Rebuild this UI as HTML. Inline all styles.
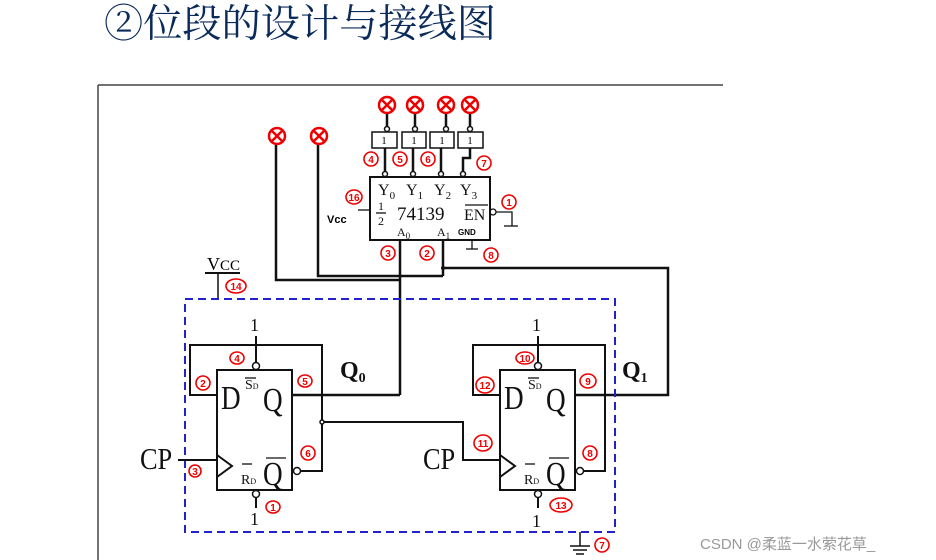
<!DOCTYPE html>
<html><head><meta charset="utf-8">
<style>
html,body{margin:0;padding:0;background:#fff;width:936px;height:560px;overflow:hidden}
svg{display:block}
.t{font-family:"Liberation Serif","Noto Serif CJK SC",serif}
.r{fill:#fff;stroke:#e00;stroke-width:1.6}
.rn{font-family:"Liberation Sans",sans-serif;font-size:10px;fill:#e00;text-anchor:middle;font-weight:bold}
</style></head><body>
<svg width="936" height="560" viewBox="0 0 936 560" xmlns="http://www.w3.org/2000/svg">
<text x="104" y="37" font-family="Noto Serif CJK SC, serif" font-size="39" fill="#0a2a5a" textLength="392" lengthAdjust="spacingAndGlyphs">②位段的设计与接线图</text>
<line x1="98" y1="85" x2="723" y2="85" stroke="#444" stroke-width="1.5"/>
<line x1="98" y1="85" x2="98" y2="560" stroke="#444" stroke-width="1.5"/>

<g stroke="#111" stroke-width="2.5" fill="none">
<polyline points="276,140 276,280 400,280"/>
<polyline points="318,140 318,276 443,276"/>
<line x1="400" y1="240" x2="400" y2="395"/>
<line x1="443" y1="240" x2="443" y2="276"/>
<polyline points="443,268 668,268 668,395 575,395"/>
<polyline points="292,395 400,395"/>
<line x1="387" y1="112" x2="387" y2="128"/>
<line x1="415" y1="112" x2="415" y2="128"/>
<line x1="446" y1="112" x2="446" y2="128"/>
<line x1="470" y1="112" x2="470" y2="128"/>
<line x1="385" y1="148" x2="385" y2="172"/>
<line x1="413" y1="148" x2="413" y2="172"/>
<line x1="441" y1="148" x2="441" y2="172"/>
<polyline points="470,148 470,158 463,158 463,172"/>
</g>
<g stroke="#e00" stroke-width="2.5" fill="#fff">
<circle cx="387" cy="105" r="8"/><circle cx="415" cy="105" r="8"/><circle cx="446" cy="105" r="8"/><circle cx="470" cy="105" r="8"/>
<circle cx="277" cy="136" r="8"/><circle cx="319" cy="136" r="8"/>
</g>
<g stroke="#e00" stroke-width="2.5">
<path d="M382,100l10,10M392,100l-10,10M410,100l10,10M420,100l-10,10M441,100l10,10M451,100l-10,10M465,100l10,10M475,100l-10,10M272,131l10,10M282,131l-10,10M314,131l10,10M324,131l-10,10"/>
</g>
<g stroke="#111" stroke-width="1.5" fill="#fff">
<rect x="372" y="132" width="25" height="16"/><rect x="402" y="132" width="24" height="16"/><rect x="430" y="132" width="24" height="16"/><rect x="458" y="132" width="25" height="16"/>
<circle cx="387" cy="129" r="2.5"/><circle cx="415" cy="129" r="2.5"/><circle cx="446" cy="129" r="2.5"/><circle cx="470" cy="129" r="2.5"/>
<circle cx="385" cy="174" r="2.5"/><circle cx="413" cy="174" r="2.5"/><circle cx="441" cy="174" r="2.5"/><circle cx="463" cy="174" r="2.5"/>
</g>
<g class="t" font-size="11" text-anchor="middle"><text x="384" y="144">1</text><text x="414" y="144">1</text><text x="442" y="144">1</text><text x="470" y="144">1</text></g>
<rect x="370" y="177" width="120" height="63" fill="none" stroke="#111" stroke-width="2"/>
<g class="t" font-size="16" fill="#111">
<text x="378" y="195">Y<tspan font-size="11" dy="4">0</tspan></text>
<text x="406" y="195">Y<tspan font-size="11" dy="4">1</tspan></text>
<text x="434" y="195">Y<tspan font-size="11" dy="4">2</tspan></text>
<text x="460" y="195">Y<tspan font-size="11" dy="4">3</tspan></text>
<text x="378" y="210" font-size="12">1</text><text x="378" y="225" font-size="12">2</text>
<text x="397" y="220" font-size="19">74139</text>
<text x="464" y="220" font-size="16">EN</text>
<text x="397" y="236" font-size="12">A<tspan font-size="9" dy="3">0</tspan></text>
<text x="437" y="236" font-size="12">A<tspan font-size="9" dy="3">1</tspan></text>
</g>
<text x="458" y="235" font-family="Liberation Sans,sans-serif" font-size="8" font-weight="bold">GND</text>
<text x="327" y="223" font-family="Liberation Sans,sans-serif" font-size="11" font-weight="bold">Vcc</text>
<g stroke="#111" stroke-width="1.3" fill="none">
<line x1="376" y1="213" x2="386" y2="213"/>
<line x1="465" y1="205" x2="488" y2="205"/>
<line x1="358" y1="210" x2="370" y2="210"/>
<circle cx="493" cy="212" r="3"/>
<polyline points="496,212 512,212 512,226"/><line x1="504" y1="226" x2="518" y2="226"/>
<line x1="472" y1="240" x2="472" y2="249"/><line x1="466" y1="249" x2="478" y2="249"/>
</g>
<circle cx="443" cy="268" r="2" fill="#111"/>
<text x="207" y="270" class="t" font-size="18">V<tspan font-size="15">CC</tspan></text>
<line x1="205" y1="273" x2="240" y2="273" stroke="#111" stroke-width="2"/>
<line x1="218" y1="273" x2="218" y2="299" stroke="#111" stroke-width="1.5"/>
<rect x="185" y="299" width="430" height="233" fill="none" stroke="#22c" stroke-width="2" stroke-dasharray="8,5"/>
<g stroke="#111" stroke-width="2" fill="none">
<rect x="217" y="370" width="75" height="120"/>
<polyline points="300,471 322,471 322,345 190,345 190,395 217,395"/>
<polyline points="322,422 463,422 463,460 500,460"/>
<polyline points="217,455 232,466 217,477"/>
<line x1="178" y1="460" x2="217" y2="460"/>
<line x1="256" y1="336" x2="256" y2="362"/>
<line x1="256" y1="497" x2="256" y2="508"/>
<rect x="500" y="370" width="75" height="120"/>
<polyline points="583,471 605,471 605,345 473,345 473,395 500,395"/>
<polyline points="500,455 515,466 500,477"/>
<line x1="538" y1="336" x2="538" y2="362"/>
<line x1="538" y1="497" x2="538" y2="508"/>
</g>
<g stroke="#111" stroke-width="1.5" fill="#fff">
<circle cx="297" cy="471" r="3.5"/><circle cx="256" cy="366" r="3.5"/><circle cx="256" cy="494" r="3.5"/><circle cx="322" cy="422" r="2"/>
<circle cx="580" cy="471" r="3.5"/><circle cx="538" cy="366" r="3.5"/><circle cx="538" cy="494" r="3.5"/>
</g>
<g class="t" fill="#111">
<text x="221" y="409" font-size="34" transform="translate(221,409) scale(0.8,1) translate(-221,-409)">D</text>
<text x="263" y="411" font-size="34" transform="translate(263,411) scale(0.8,1) translate(-263,-411)">Q</text>
<text x="245" y="389" font-size="14">S<tspan font-size="8">D</tspan></text>
<text x="241" y="484" font-size="14">R<tspan font-size="8">D</tspan></text>
<text x="263" y="485" font-size="34" transform="translate(263,485) scale(0.8,1) translate(-263,-485)">Q</text>
<text x="504" y="409" font-size="34" transform="translate(504,409) scale(0.8,1) translate(-504,-409)">D</text>
<text x="546" y="411" font-size="34" transform="translate(546,411) scale(0.8,1) translate(-546,-411)">Q</text>
<text x="528" y="389" font-size="14">S<tspan font-size="8">D</tspan></text>
<text x="524" y="484" font-size="14">R<tspan font-size="8">D</tspan></text>
<text x="546" y="485" font-size="34" transform="translate(546,485) scale(0.8,1) translate(-546,-485)">Q</text>
<text x="250" y="331" font-size="18">1</text><text x="250" y="525" font-size="18">1</text>
<text x="532" y="331" font-size="18">1</text><text x="532" y="527" font-size="18">1</text>
<text x="140" y="469" font-size="31" transform="translate(140,469) scale(0.85,1) translate(-140,-469)">CP</text>
<text x="423" y="469" font-size="31" transform="translate(423,469) scale(0.85,1) translate(-423,-469)">CP</text>
<text x="340" y="378" font-size="24" font-weight="bold">Q<tspan font-size="14" dy="4">0</tspan></text>
<text x="622" y="378" font-size="24" font-weight="bold">Q<tspan font-size="14" dy="4">1</tspan></text>
</g>
<g stroke="#111" stroke-width="1.3">
<line x1="245" y1="378" x2="256" y2="378"/><line x1="242" y1="464" x2="252" y2="464"/>
<line x1="266" y1="458" x2="286" y2="458"/>
<line x1="528" y1="378" x2="539" y2="378"/><line x1="525" y1="464" x2="535" y2="464"/>
<line x1="549" y1="458" x2="569" y2="458"/>
</g>
<g stroke="#111" stroke-width="1.5"><line x1="580" y1="532" x2="580" y2="546"/><line x1="570" y1="546" x2="590" y2="546"/><line x1="573" y1="550" x2="587" y2="550"/><line x1="576" y1="554" x2="584" y2="554"/></g>
<g>
<ellipse class="r" cx="371" cy="159" rx="7" ry="7"/><text class="rn" x="371" y="163">4</text>
<ellipse class="r" cx="400" cy="159" rx="7" ry="7"/><text class="rn" x="400" y="163">5</text>
<ellipse class="r" cx="428" cy="159" rx="7" ry="7"/><text class="rn" x="428" y="163">6</text>
<ellipse class="r" cx="484" cy="163" rx="7" ry="7"/><text class="rn" x="484" y="167">7</text>
<ellipse class="r" cx="354" cy="197" rx="8" ry="7"/><text class="rn" x="354" y="201">16</text>
<ellipse class="r" cx="509" cy="202" rx="7" ry="7"/><text class="rn" x="509" y="206">1</text>
<ellipse class="r" cx="388" cy="253" rx="7" ry="7"/><text class="rn" x="388" y="257">3</text>
<ellipse class="r" cx="427" cy="253" rx="7" ry="7"/><text class="rn" x="427" y="257">2</text>
<ellipse class="r" cx="491" cy="255" rx="7" ry="7"/><text class="rn" x="491" y="259">8</text>
<ellipse class="r" cx="236" cy="286" rx="10" ry="7"/><text class="rn" x="236" y="290">14</text>
<ellipse class="r" cx="237" cy="358" rx="7" ry="6"/><text class="rn" x="237" y="362">4</text>
<ellipse class="r" cx="203" cy="383" rx="7" ry="7"/><text class="rn" x="203" y="387">2</text>
<ellipse class="r" cx="305" cy="381" rx="7" ry="6"/><text class="rn" x="305" y="385">5</text>
<ellipse class="r" cx="308" cy="453" rx="7" ry="7"/><text class="rn" x="308" y="457">6</text>
<ellipse class="r" cx="195" cy="471" rx="6" ry="6"/><text class="rn" x="195" y="475">3</text>
<ellipse class="r" cx="273" cy="507" rx="7" ry="6"/><text class="rn" x="273" y="511">1</text>
<ellipse class="r" cx="525" cy="358" rx="9" ry="6"/><text class="rn" x="525" y="362">10</text>
<ellipse class="r" cx="485" cy="385" rx="9" ry="8"/><text class="rn" x="485" y="389">12</text>
<ellipse class="r" cx="588" cy="381" rx="8" ry="7"/><text class="rn" x="588" y="385">9</text>
<ellipse class="r" cx="483" cy="443" rx="9" ry="8"/><text class="rn" x="483" y="447">11</text>
<ellipse class="r" cx="590" cy="453" rx="7" ry="7"/><text class="rn" x="590" y="457">8</text>
<ellipse class="r" cx="561" cy="505" rx="11" ry="7"/><text class="rn" x="561" y="509">13</text>
<ellipse class="r" cx="602" cy="545" rx="7" ry="7"/><text class="rn" x="602" y="549">7</text>
</g>
<text x="700" y="549" font-family="Liberation Sans,Noto Sans CJK SC,sans-serif" font-size="15" fill="#999">CSDN @柔蓝一水萦花草_</text>
</svg>
</body></html>
